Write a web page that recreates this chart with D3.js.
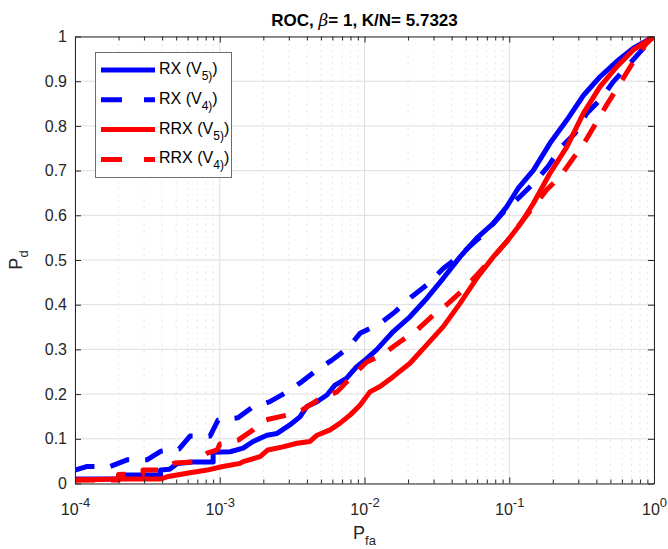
<!DOCTYPE html>
<html>
<head>
<meta charset="utf-8">
<script src="https://cdn.jsdelivr.net/npm/d3@7"></script>
<style>
  body { margin: 0; background: #fff; }
  svg { font-family: "Liberation Sans", Arial, sans-serif; }
</style>
</head>
<body>
<script>
// values: [Pfa, Pd]
const seriesNames = ["RX (V|5)", "RX (V|4)", "RRX (V|5)", "RRX (V|4)"];
const seriesColors = ["#0000ff", "#0000ff", "#ff0000", "#ff0000"];
const seriesDashed = [false, true, false, true];

const rxV5 = [[1e-4,0.01],[2.0e-4,0.01],[2.0e-4,0.019],[3.9e-4,0.019],[3.9e-4,0.03],[4.5e-4,0.032],[5.1e-4,0.045],[6.5e-4,0.048],[9.0e-4,0.048],[9.0e-4,0.07],[1.18e-3,0.071],[1.45e-3,0.079],[1.7e-3,0.094],[2.12e-3,0.108],[2.49e-3,0.112],[3.05e-3,0.131],[3.58e-3,0.149],[4.0e-3,0.172],[4.7e-3,0.183],[5.5e-3,0.198],[6.25e-3,0.22],[7.5e-3,0.235],[8.8e-3,0.261],[1.04e-2,0.28],[1.21e-2,0.299],[1.58e-2,0.34],[2.06e-2,0.373],[2.69e-2,0.414],[3.5e-2,0.459],[4.57e-2,0.507],[5.96e-2,0.549],[7.76e-2,0.582],[9.6e-2,0.619],[0.115,0.66],[0.147,0.701],[0.191,0.761],[0.25,0.813],[0.325,0.868],[0.424,0.91],[0.552,0.944],[0.719,0.974],[1,1]];

const rxV4 = [[1e-4,0.03],[1.2e-4,0.038],[1.75e-4,0.038],[2.29e-4,0.053],[3.14e-4,0.053],[3.9e-4,0.072],[5.23e-4,0.077],[6.23e-4,0.106],[8.57e-4,0.106],[9.73e-4,0.142],[1.336e-3,0.147],[1.67e-3,0.17],[2.22e-3,0.183],[2.92e-3,0.205],[3.7e-3,0.228],[4.7e-3,0.254],[5.96e-3,0.276],[7.69e-3,0.303],[9.31e-3,0.336],[1.28e-2,0.358],[1.625e-2,0.384],[2.12e-2,0.418],[2.69e-2,0.444],[3.5e-2,0.481],[4.45e-2,0.507],[5.8e-2,0.541],[6.59e-2,0.556],[9.3e-2,0.61],[0.117,0.64],[0.151,0.675],[0.185,0.709],[0.23,0.753],[0.284,0.783],[0.343,0.828],[0.424,0.858],[0.524,0.899],[0.648,0.932],[1,1]];

const rrxV5 = [[1e-4,0.008],[2.0e-4,0.01],[3.87e-4,0.01],[4.32e-4,0.015],[5.94e-4,0.023],[8.17e-4,0.03],[1.05e-3,0.038],[1.38e-3,0.045],[1.45e-3,0.049],[1.9e-3,0.06],[2.15e-3,0.075],[2.73e-3,0.082],[3.42e-3,0.09],[4.2e-3,0.094],[4.7e-3,0.108],[5.78e-3,0.12],[6.78e-3,0.135],[7.94e-3,0.153],[9.31e-3,0.175],[1.09e-2,0.205],[1.28e-2,0.217],[1.58e-2,0.239],[2.06e-2,0.269],[2.69e-2,0.31],[3.5e-2,0.351],[4.57e-2,0.403],[5.96e-2,0.459],[7.76e-2,0.507],[9.6e-2,0.541],[0.119,0.58],[0.147,0.627],[0.191,0.694],[0.25,0.753],[0.325,0.828],[0.424,0.888],[0.552,0.932],[0.719,0.97],[1,1]];

const rrxV4 = [[1e-4,0.008],[2.0e-4,0.008],[2.0e-4,0.02],[2.95e-4,0.022],[2.95e-4,0.03],[3.9e-4,0.03],[4.9e-4,0.046],[6.5e-4,0.048],[8.2e-4,0.068],[9.6e-4,0.075],[1.0e-3,0.088],[1.34e-3,0.097],[1.7e-3,0.12],[2.05e-3,0.142],[2.92e-3,0.153],[3.7e-3,0.164],[4.77e-3,0.187],[6.46e-3,0.205],[7.94e-3,0.235],[1.035e-2,0.272],[1.315e-2,0.287],[1.76e-2,0.317],[2.3e-2,0.343],[2.99e-2,0.377],[3.79e-2,0.403],[4.94e-2,0.437],[6.11e-2,0.47],[7.76e-2,0.507],[9.6e-2,0.541],[0.125,0.59],[0.1815,0.657],[0.224,0.686],[0.277,0.728],[0.334,0.765],[0.402,0.809],[0.471,0.847],[0.567,0.888],[0.664,0.925],[0.798,0.966],[0.891,0.985],[1,1]];

const xMajorTicks = [1e-4, 1e-3, 1e-2, 1e-1, 1];
const yTicks = [0, 0.1, 0.2, 0.3, 0.4, 0.5, 0.6, 0.7, 0.8, 0.9, 1];
const titleText = "K/N= 5.7323";

const width = 668, height = 549;
const margin = {top: 36.5, right: 14, bottom: 65.5, left: 75};

const svg = d3.select("body").append("svg")
    .attr("width", width)
    .attr("height", height);

const x = d3.scaleLog()
    .domain([1e-4, 1])
    .range([margin.left, width - margin.right]);

const y = d3.scaleLinear()
    .domain([0, 1])
    .range([height - margin.bottom, margin.top]);

// minor ticks 2..9 in each decade
const xMinorTicks = [];
for (let k = -4; k < 0; k++) {
  for (let m = 2; m <= 9; m++) xMinorTicks.push(m * Math.pow(10, k));
}

const axisColor = "#262626";

// grid
const grid = svg.append("g");
grid.selectAll(".minor")
  .data(xMinorTicks)
  .join("line")
    .attr("x1", d => x(d)).attr("x2", d => x(d))
    .attr("y1", y(0)).attr("y2", y(1))
    .attr("stroke", "#cfcfcf")
    .attr("stroke-width", 1)
    .attr("stroke-dasharray", "1,5");
grid.selectAll(".vmaj")
  .data(xMajorTicks)
  .join("line")
    .attr("x1", d => x(d)).attr("x2", d => x(d))
    .attr("y1", y(0)).attr("y2", y(1))
    .attr("stroke", "#dedede");
grid.selectAll(".hmaj")
  .data(yTicks)
  .join("line")
    .attr("x1", x(1e-4)).attr("x2", x(1))
    .attr("y1", d => y(d)).attr("y2", d => y(d))
    .attr("stroke", "#dedede");

// curves
svg.append("clipPath").attr("id", "clip")
  .append("rect")
    .attr("x", x(1e-4)).attr("y", y(1))
    .attr("width", x(1) - x(1e-4))
    .attr("height", y(0) - y(1));

const line = d3.line()
    .x(d => x(d[0]))
    .y(d => y(d[1]));

const allSeries = [rxV5, rxV4, rrxV5, rrxV4];

svg.append("g")
    .attr("clip-path", "url(#clip)")
  .selectAll("path")
  .data(allSeries)
  .join("path")
    .attr("d", line)
    .attr("fill", "none")
    .attr("stroke", (d, i) => seriesColors[i])
    .attr("stroke-width", 5)
    .attr("stroke-linejoin", "round")
    .attr("stroke-dasharray", (d, i) => seriesDashed[i] ? "20,16" : null);

// axes (ticks point inwards like matlab)
const xAxis = g => g
    .attr("transform", `translate(0,${y(0)})`)
    .call(d3.axisBottom(x).tickValues(xMajorTicks).tickSizeInner(-6).tickSizeOuter(0).tickPadding(20).tickFormat(""))
    .call(g => g.selectAll(".tick text").each(function(d) {
      const t = d3.select(this);
      t.append("tspan").text("10");
      t.append("tspan").attr("dy", "-8").attr("font-size", 13).text(Math.round(Math.log10(d)));
    }));

const gx = svg.append("g").call(xAxis);
gx.selectAll("text").attr("font-size", 16).attr("fill", axisColor);

svg.append("g")
    .attr("transform", `translate(0,${y(0)})`)
    .call(d3.axisBottom(x).tickValues(xMinorTicks).tickSizeInner(-4).tickSizeOuter(0).tickFormat(""))
    .call(g => g.select(".domain").remove());

svg.append("g")
    .attr("transform", `translate(0,${y(1)})`)
    .call(d3.axisTop(x).tickValues(xMajorTicks).tickSizeInner(-6).tickSizeOuter(0).tickFormat(""));
svg.append("g")
    .attr("transform", `translate(0,${y(1)})`)
    .call(d3.axisTop(x).tickValues(xMinorTicks).tickSizeInner(-4).tickSizeOuter(0).tickFormat(""))
    .call(g => g.select(".domain").remove());

const gy = svg.append("g")
    .attr("transform", `translate(${x(1e-4)},0)`)
    .call(d3.axisLeft(y).tickValues(yTicks).tickSizeInner(-6).tickSizeOuter(0).tickPadding(8).tickFormat(d3.format("~g")));
gy.selectAll("text").attr("font-size", 16).attr("fill", axisColor);

svg.append("g")
    .attr("transform", `translate(${x(1)},0)`)
    .call(d3.axisRight(y).tickValues(yTicks).tickSizeInner(-6).tickSizeOuter(0).tickFormat(""));

svg.selectAll(".domain, .tick line").attr("stroke", axisColor);

// title
const title = svg.append("text")
    .attr("x", (x(1e-4) + x(1)) / 2)
    .attr("y", 26)
    .attr("text-anchor", "middle")
    .attr("font-size", 17)
    .attr("font-weight", "bold")
    .attr("fill", "#000");
title.append("tspan").text("ROC, ");
title.append("tspan").attr("font-family", "'DejaVu Serif', serif").attr("font-style", "italic").attr("font-weight", "normal").text("β");
title.append("tspan").text("= 1, " + titleText);

// axis labels
const xl = svg.append("text")
    .attr("x", (x(1e-4) + x(1)) / 2)
    .attr("y", 539)
    .attr("text-anchor", "middle")
    .attr("font-size", 18)
    .attr("fill", axisColor);
xl.append("tspan").text("P");
xl.append("tspan").attr("dy", 6).attr("font-size", 13).text("fa");

const yl = svg.append("text")
    .attr("transform", `translate(22,${(y(0) + y(1)) / 2}) rotate(-90)`)
    .attr("text-anchor", "middle")
    .attr("font-size", 18)
    .attr("fill", axisColor);
yl.append("tspan").text("P");
yl.append("tspan").attr("dy", 6).attr("font-size", 13).text("d");

// legend
const legend = svg.append("g");
legend.append("rect")
    .attr("x", 95.5).attr("y", 52.5)
    .attr("width", 136).attr("height", 125)
    .attr("fill", "#fff")
    .attr("stroke", "#6e6e6e")
    .attr("stroke-width", 1);

const rows = legend.selectAll(".row")
  .data(seriesNames)
  .join("g")
    .attr("transform", (d, i) => `translate(0,${70 + i * 29.8})`);

rows.append("line")
    .attr("x1", 101).attr("x2", 155)
    .attr("stroke", (d, i) => seriesColors[i])
    .attr("stroke-width", 5)
    .attr("stroke-dasharray", (d, i) => seriesDashed[i] ? "21,22" : null);

rows.append("text")
    .attr("x", 159)
    .attr("y", 4)
    .attr("font-size", 16)
    .attr("fill", "#000")
    .each(function(d) {
      const parts = d.split("|");
      const t = d3.select(this);
      t.append("tspan").text(parts[0]);
      t.append("tspan").attr("dy", 6).attr("font-size", 12).text(parts[1]);
      t.append("tspan").attr("dy", -6).text(")");
    });
</script>
</body>
</html>
